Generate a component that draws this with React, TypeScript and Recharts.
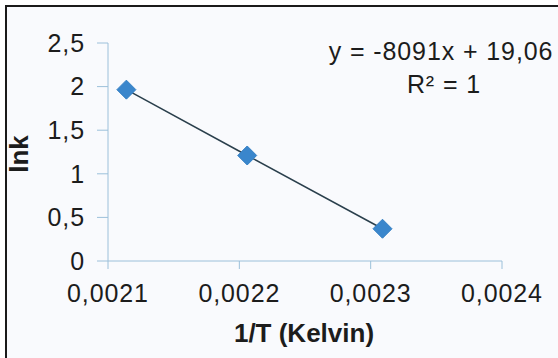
import React from 'react';
import { ComposedChart, Scatter, XAxis, YAxis, Customized } from 'recharts';

const invT = [0.002114, 0.002206, 0.002309];
const lnk = [1.965, 1.21, 0.37];
const xTicks = [0.0021, 0.0022, 0.0023, 0.0024];
const yTicks = [0, 0.5, 1, 1.5, 2, 2.5];
const equationText = 'y = -8091x + 19,06';
const r2Text = 'R² = 1';
const xTitle = '1/T (Kelvin)';
const yTitle = 'lnk';

const data = invT.map((x, i) => ({ x, y: lnk[i] }));

const FONT = '"Liberation Sans", Arial, sans-serif';
const TXT = '#1c1c1c';
const AXIS = '#9cc0da';

const fmt = (v: number) => String(v).replace('.', ',');

const Diamond = (props: any) => {
  const { cx, cy } = props;
  const r = 9.5;
  return (
    <polygon
      points={`${cx},${cy - r} ${cx + r},${cy} ${cx},${cy + r} ${cx - r},${cy}`}
      fill="#3a86cc"
      stroke="#3580c4"
      strokeWidth={1}
    />
  );
};

const Annotations = () => (
  <g fontFamily={FONT} fill={TXT}>
    <text x={441} y={60} textAnchor="middle" fontSize={25} letterSpacing={0.9}>
      {equationText}
    </text>
    <text x={444} y={93} textAnchor="middle" fontSize={25} letterSpacing={0.9}>
      {r2Text}
    </text>
    <text x={304} y={342} textAnchor="middle" fontSize={26} fontWeight="bold">
      {xTitle}
    </text>
    <text
      x={0}
      y={0}
      transform="translate(28,154) rotate(-90)"
      textAnchor="middle"
      fontSize={26}
      fontWeight="bold"
    >
      {yTitle}
    </text>
  </g>
);

export default function App() {
  return (
    <div style={{ position: 'absolute', left: 0, top: 0, width: 558, height: 358, background: '#ffffff', overflow: 'hidden' }}>
      <div
        style={{
          position: 'absolute',
          left: 5,
          top: 5,
          width: 570,
          height: 370,
          borderLeft: '2px solid #1a1a1a',
          borderTop: '2px solid #1a1a1a',
          background: '#f9fafd',
        }}
      />
      <div style={{ position: 'absolute', left: 0, top: 0 }}>
        <ComposedChart width={558} height={358} data={data} margin={{ top: 43, right: 56, left: 0, bottom: 57 }}>
          <XAxis
            type="number"
            dataKey="x"
            domain={[0.0021, 0.0024]}
            ticks={xTicks}
            tickFormatter={fmt}
            height={40}
            tickSize={8}
            tickMargin={15}
            stroke={AXIS}
            tick={{ fill: TXT, fontSize: 25, fontFamily: FONT, letterSpacing: 0.9 }}
            allowDataOverflow
          />
          <YAxis
            type="number"
            dataKey="y"
            domain={[0, 2.5]}
            ticks={yTicks}
            tickFormatter={fmt}
            width={108}
            tickSize={11}
            tickMargin={12}
            stroke={AXIS}
            tick={{ fill: TXT, fontSize: 25, fontFamily: FONT, letterSpacing: 0.9 }}
          />
          <Scatter
            data={data}
            dataKey="y"
            line={{ stroke: '#2a3f4c', strokeWidth: 1.5 }}
            shape={Diamond}
            isAnimationActive={false}
          />
          <Customized component={Annotations} />
        </ComposedChart>
      </div>
    </div>
  );
}
